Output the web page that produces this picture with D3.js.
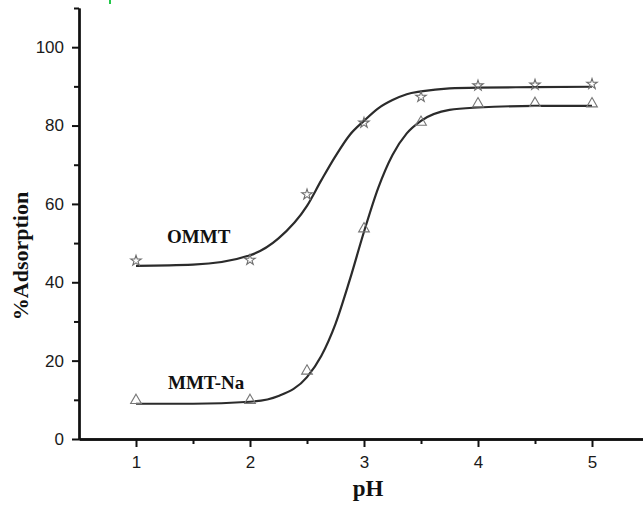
<!DOCTYPE html>
<html>
<head>
<meta charset="utf-8">
<script src="https://cdn.jsdelivr.net/npm/d3@7"></script>
<style>
  html, body { margin: 0; padding: 0; background: #fff; }
  svg { display: block; }
</style>
</head>
<body>
<svg id="chart" width="643" height="507"></svg>
<script>
// ---- data ----
const phValues = [1, 2, 2.5, 3, 3.5, 4, 4.5, 5];
const ommtValues = [45.5, 45.7, 62.4, 80.7, 87.3, 90.2, 90.4, 90.6];
const mmtNaValues = [9.6, 9.6, 17.1, 53.4, 80.6, 85.3, 85.4, 85.3];

// fitted curves as they appear in the picture (sampled by eye)
const fitPh = [1, 1.5, 2, 2.25, 2.5, 2.625, 2.75, 2.875, 3, 3.125, 3.25, 3.375, 3.5, 3.75, 4, 4.5, 5];
const ommtFit = [44.2, 44.5, 46.9, 51.2, 59.5, 66.0, 72.2, 77.6, 81.2, 84.4, 86.5, 88.0, 88.7, 89.5, 89.7, 89.8, 89.9];
const mmtNaFit = [9.0, 9.0, 9.5, 11.0, 15.8, 21.2, 29.4, 40.6, 52.9, 64.1, 72.5, 78.0, 81.2, 84.0, 84.6, 85.0, 85.0];

const xMajorTicks = [1, 2, 3, 4, 5];
const xMinorTicks = [1.5, 2.5, 3.5, 4.5, 5.5];
const yMajorTicks = [0, 20, 40, 60, 80, 100];
const yMinorTicks = [10, 30, 50, 70, 90, 110];

const seriesLabels = ["OMMT", "MMT-Na"];
const xTitle = "pH";
const yTitle = "%Adsorption";

// ---- layout ----
const svg = d3.select("#chart");
const x = d3.scaleLinear().domain([0.5, 5.5]).range([79, 649]);
const y = d3.scaleLinear().domain([0, 110]).range([439, 8]);

const tickFont = "'Liberation Sans', Arial, sans-serif";
const serif = "'Liberation Serif', 'Times New Roman', serif";

// small green mark at the top (crop artefact in the reference)
svg.append("rect").attr("x", 109).attr("y", 0).attr("width", 2).attr("height", 4).attr("fill", "#22c84a");

// curves
const line = d3.line().x(d => x(d[0])).y(d => y(d[1])).curve(d3.curveMonotoneX);
[ommtFit, mmtNaFit].forEach(vals => {
  svg.append("path")
    .datum(fitPh.map((p, i) => [p, vals[i]]))
    .attr("d", line)
    .attr("fill", "none")
    .attr("stroke", "#2b2b2b")
    .attr("stroke-width", 2.2);
});

// markers
const star = d3.symbol().type(d3.symbolStar).size(34);
const tri = d3.symbol().type(d3.symbolTriangle).size(50);
svg.append("g").selectAll("path").data(phValues.map((p, i) => [p, ommtValues[i]])).join("path")
  .attr("d", star)
  .attr("transform", d => `translate(${x(d[0])},${y(d[1])})`)
  .attr("fill", "none").attr("stroke", "#6e6e6e").attr("stroke-width", 1.1);
svg.append("g").selectAll("path").data(phValues.map((p, i) => [p, mmtNaValues[i]])).join("path")
  .attr("d", tri)
  .attr("transform", d => `translate(${x(d[0])},${y(d[1]) - 1})`)
  .attr("fill", "none").attr("stroke", "#777", ).attr("stroke-width", 1.1);

// axes
function styleAxis(g, labels) {
  g.select(".domain").attr("stroke", "#111").attr("stroke-width", 2.3);
  g.selectAll(".tick line").attr("stroke", "#111").attr("stroke-width", 2);
  g.selectAll(".tick text").attr("fill", "#1a1a1a").style("font-family", tickFont).style("font-size", "17px");
  if (!labels) g.selectAll(".tick text").remove();
}

const gxMinor = svg.append("g").attr("transform", `translate(0,${y(0)})`)
  .call(d3.axisBottom(x).tickValues(xMinorTicks).tickSize(5).tickSizeOuter(0).tickFormat(""));
styleAxis(gxMinor, false);
const gx = svg.append("g").attr("transform", `translate(0,${y(0)})`)
  .call(d3.axisBottom(x).tickValues(xMajorTicks).tickSize(8).tickPadding(9).tickSizeOuter(0).tickFormat(d3.format("d")));
styleAxis(gx, true);

const gyMinor = svg.append("g").attr("transform", `translate(${x(0.5)},0)`)
  .call(d3.axisLeft(y).tickValues(yMinorTicks).tickSize(5).tickSizeOuter(0).tickFormat(""));
styleAxis(gyMinor, false);
const gy = svg.append("g").attr("transform", `translate(${x(0.5)},0)`)
  .call(d3.axisLeft(y).tickValues(yMajorTicks).tickSize(7).tickPadding(8).tickSizeOuter(0).tickFormat(d3.format("d")));
styleAxis(gy, true);

// series labels
svg.append("text").attr("x", 167).attr("y", 243).text(seriesLabels[0])
  .style("font-family", serif).style("font-weight", "bold").style("font-size", "19px").attr("fill", "#111");
svg.append("text").attr("x", 168).attr("y", 389).text(seriesLabels[1])
  .style("font-family", serif).style("font-weight", "bold").style("font-size", "19px").attr("fill", "#111");

// axis titles
svg.append("text").attr("x", x(3.0) + 4).attr("y", 496).attr("text-anchor", "middle").text(xTitle)
  .style("font-family", serif).style("font-weight", "bold").style("font-size", "23px").attr("fill", "#111");
svg.append("text").attr("transform", "translate(28,256) rotate(-90)").attr("text-anchor", "middle").text(yTitle)
  .style("font-family", serif).style("font-weight", "bold").style("font-size", "22px").attr("fill", "#111");
</script>
</body>
</html>
